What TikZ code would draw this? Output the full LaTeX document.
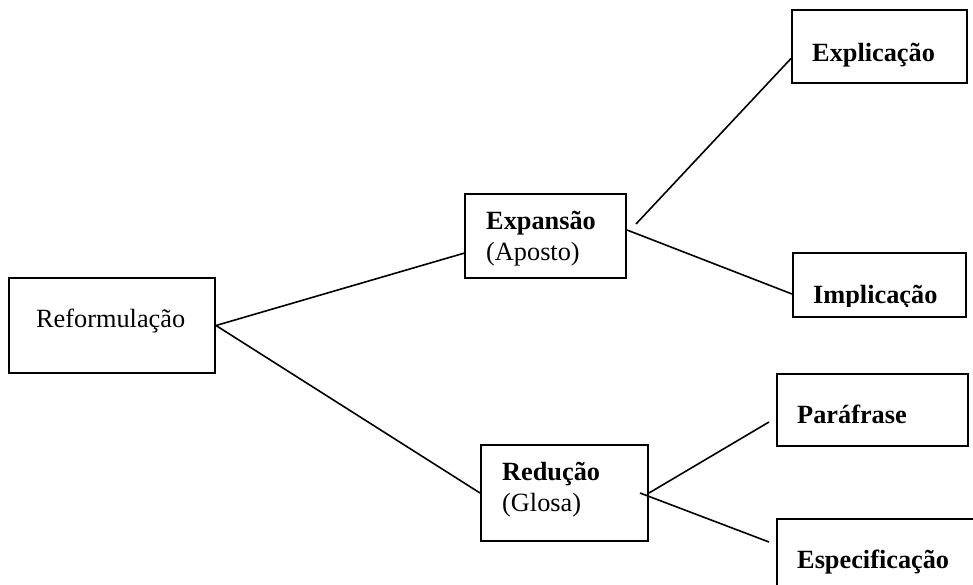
\documentclass[tikz,border=0pt]{standalone}
\usepackage{fontspec}
\setmainfont{Liberation Serif}
\usetikzlibrary{calc}
\begin{document}
\begin{tikzpicture}[x=1pt,y=-1pt,
  box/.style={draw=black,line width=2pt,rectangle,inner sep=0pt,anchor=north west},
  lbl/.style={inner sep=0pt,anchor=base west,align=left,font=\fontsize{26.3}{31}\selectfont},
  conn/.style={draw=black,line width=1.6pt}]
\useasboundingbox (0,0) rectangle (973,585);
\clip (0,0) rectangle (973,585);
% boxes
\node[box,minimum width=206pt,minimum height=95pt] (ref) at (8,277) {};
\node[box,minimum width=161pt,minimum height=84pt] (exp) at (464,193) {};
\node[box,minimum width=167pt,minimum height=96pt] (red) at (480,444) {};
\node[box,minimum width=175pt,minimum height=73pt] (expl) at (791,9) {};
\node[box,minimum width=173pt,minimum height=64pt] (impl) at (792,252) {};
\node[box,minimum width=191pt,minimum height=72pt] (para) at (776,373) {};
\node[box,minimum width=205pt,minimum height=80pt] (espec) at (776,518) {};
% labels (anchor at the baseline of the last line)
\node[lbl] (tref) at (36,327) {Reformulação};
\node[lbl] (texp) at (486,260) {\textbf{Expansão}\\(Aposto)};
\node[lbl] (tred) at (502,511) {\textbf{Redução}\\(Glosa)};
\node[lbl] (texpl) at (812,62) {\textbf{Explicação}};
\begin{scope}
\clip (792,252) rectangle (965,306);
\node[lbl] (timpl) at (813,303) {\textbf{Implicação}};
\end{scope}
\node[lbl] (tpara) at (797,423) {\textbf{Paráfrase}};
\node[lbl] (tespec) at (797,568) {\textbf{Especificação}};
% connectors
\draw[conn] (ref.east) -- ($(exp.north west)!0.70!(exp.south west)$);
\draw[conn] (ref.east) -- (red.west);
\draw[conn] ([xshift=9pt,yshift=12pt]exp.east) -- ($(expl.north west)!0.66!(expl.south west)$);
\draw[conn] ([yshift=6pt]exp.east) -- ([yshift=-9pt]impl.west);
\draw[conn] (red.east) -- ([xshift=-7pt,yshift=-12pt]para.west);
\draw[conn] ([xshift=-9pt]red.east) -- ([xshift=-7pt,yshift=17pt]espec.west);
\end{tikzpicture}
\end{document}
